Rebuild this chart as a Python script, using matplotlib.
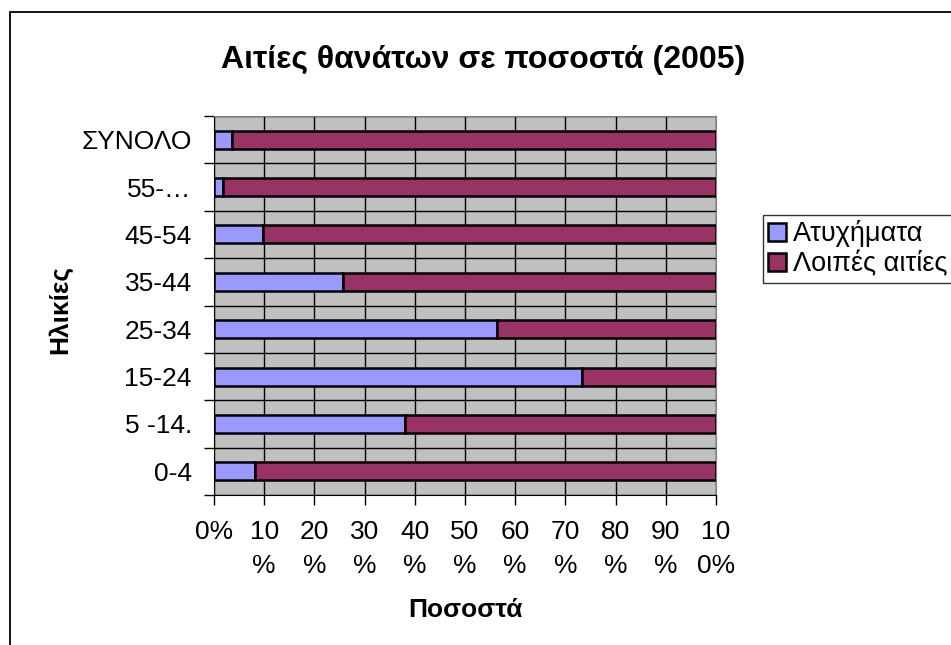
import matplotlib
matplotlib.use("Agg")
import matplotlib.pyplot as plt
from matplotlib.patches import Rectangle, Patch
from matplotlib.ticker import FixedLocator

plt.rcParams["font.family"] = ["Liberation Sans", "DejaVu Sans"]

# Δεδομένα (από κάτω προς τα πάνω)
AGE_GROUPS = ["0-4", "5 -14.", "15-24", "25-34", "35-44", "45-54", "55-…", "ΣΥΝΟΛΟ"]
ACCIDENTS = [8.1, 38.0, 73.4, 56.4, 25.7, 9.7, 1.7, 3.6]
OTHER_CAUSES = [91.9, 62.0, 26.6, 43.6, 74.3, 90.3, 98.3, 96.4]
X_TICKS = [0, 10, 20, 30, 40, 50, 60, 70, 80, 90, 100]
X_TICK_LABELS = ["0%", "10\n%", "20\n%", "30\n%", "40\n%", "50\n%",
                 "60\n%", "70\n%", "80\n%", "90\n%", "10\n0%"]

TITLE = "Αιτίες θανάτων σε ποσοστά (2005)"
X_LABEL = "Ποσοστά"
Y_LABEL = "Ηλικίες"
LEGEND_LABELS = ["Ατυχήματα", "Λοιπές αιτίες"]

BLUE = "#9999FF"
MAROON = "#993366"
GRAY = "#C0C0C0"

W, H = 951, 645
fig = plt.figure(figsize=(W / 100, H / 100), dpi=100)

# πλαίσιο γραφήματος (κόβεται δεξιά και κάτω)
fig.patches.append(Rectangle((10 / W, -0.1), 1.2, 1.1 - 12 / H,
                             transform=fig.transFigure, fill=False,
                             edgecolor="black", linewidth=1.3))

ax = fig.add_axes([214 / W, 1 - 495 / H, (716 - 214) / W, (495 - 116) / H])
ax.set_facecolor(GRAY)

y = list(range(len(AGE_GROUPS)))
ax.barh(y, ACCIDENTS, height=0.38, color=BLUE, edgecolor="black",
        linewidth=1.8, zorder=3)
ax.barh(y, OTHER_CAUSES, left=ACCIDENTS, height=0.38, color=MAROON,
        edgecolor="black", linewidth=1.8, zorder=3)

ax.set_xlim(0, 100)
ax.set_ylim(-0.5, len(AGE_GROUPS) - 0.5)

ax.set_xticks(X_TICKS)
ax.set_xticklabels(X_TICK_LABELS, fontsize=19, linespacing=1.55)
ax.tick_params(axis="x", direction="out", length=7, width=1, pad=11)

ax.yaxis.set_major_locator(FixedLocator([i - 0.5 for i in range(len(AGE_GROUPS) + 1)]))
ax.yaxis.set_minor_locator(FixedLocator(y))
ax.set_yticklabels([], minor=False)
ax.set_yticklabels(AGE_GROUPS, minor=True, fontsize=19)
ax.tick_params(axis="y", which="major", direction="out", length=7, width=1)
ax.tick_params(axis="y", which="minor", length=0, pad=16)

ax.grid(True, which="major", color="black", linewidth=1, zorder=0)
ax.set_axisbelow(True)

for side in ["top", "right"]:
    ax.spines[side].set_color("#808080")
for side in ["left", "bottom"]:
    ax.spines[side].set_color("black")

fig.text(483 / W, 1 - 60 / H, TITLE, ha="center", va="center",
         fontsize=23, fontweight="bold")
fig.text(465 / W, 1 - 610 / H, X_LABEL, ha="center", va="center",
         fontsize=19, fontweight="bold")
fig.text(60 / W, 1 - 310 / H, Y_LABEL, ha="center", va="center",
         fontsize=19, fontweight="bold", rotation=90)

handles = [Patch(facecolor=BLUE, edgecolor="black", linewidth=1.8),
           Patch(facecolor=MAROON, edgecolor="black", linewidth=1.8)]
leg = fig.legend(handles, LEGEND_LABELS, loc="upper left",
                 bbox_to_anchor=(763 / W, 1 - 215 / H),
                 bbox_transform=fig.transFigure, fontsize=19.5,
                 frameon=True, fancybox=False, borderaxespad=0,
                 handlelength=0.65, handleheight=0.65, handletextpad=0.25,
                 labelspacing=0.15, borderpad=0.2)
leg.get_frame().set_edgecolor("black")
leg.get_frame().set_linewidth(1)

fig.savefig("out.png", dpi=100)
